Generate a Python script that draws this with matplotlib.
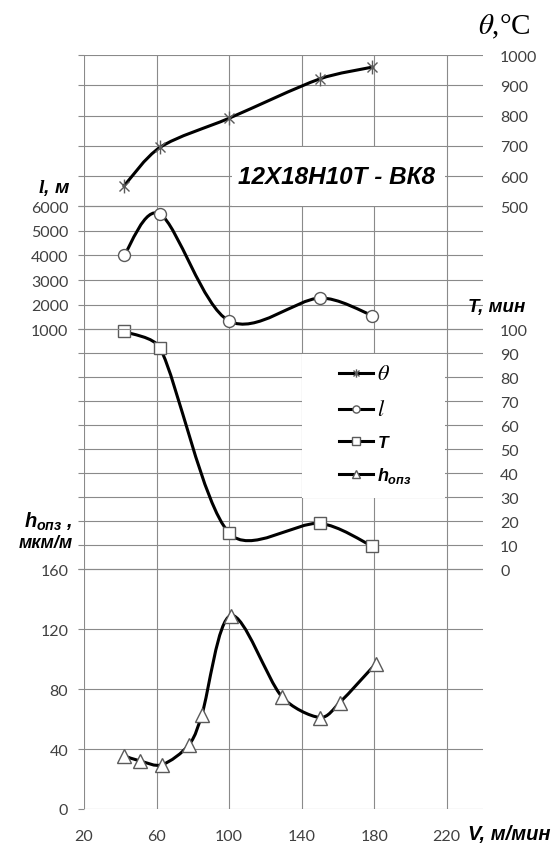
import matplotlib
matplotlib.use("Agg")
import matplotlib.pyplot as plt
import numpy as np
from matplotlib.path import Path
from matplotlib.patches import PathPatch, Rectangle
from matplotlib.lines import Line2D

plt.rcParams['font.family'] = ['Liberation Sans', 'DejaVu Sans']
plt.rcParams['mathtext.fontset'] = 'custom'
plt.rcParams['mathtext.it'] = 'Liberation Sans:italic:bold'
plt.rcParams['mathtext.bf'] = 'Liberation Serif:italic:bold'
plt.rcParams['mathtext.rm'] = 'Liberation Sans:italic:bold'

# cutting speed, m/min
speed = [42, 62, 100, 150, 179]
temp = [567, 695, 791, 921, 960]          # theta, deg C
path_len = [4000, 5680, 1340, 2270, 1560]  # l, m
tool_life = [99, 92, 15, 19, 9.5]          # T, min
speed_h = [42, 51, 63, 78, 85, 101, 129, 150, 161, 181]
wear = [35.5, 32, 29.5, 43, 63, 129, 75, 61, 71, 97]  # h_ops, um/m

x_ticks = [20, 60, 100, 140, 180, 220]
h_ticks = [0, 40, 80, 120, 160]
T_ticks = list(range(0, 101, 10))
l_ticks = [1000, 2000, 3000, 4000, 5000, 6000]
th_ticks = [500, 600, 700, 800, 900, 1000]

GRID = '#8a8a8a'
LABEL = '#404040'
MEC = '#5a5a5a'


def smooth_path(a, xs, ys):
    # cubic Bezier through the points, tangents built in screen space
    # and capped to a third of the neighbouring segment
    pts = a.transData.transform(np.column_stack([xs, ys]).astype(float))
    n = len(pts)
    tang = []
    for i in range(n):
        tang.append((pts[min(i + 1, n - 1)] - pts[max(i - 1, 0)]) / 6)
    verts = [pts[0]]
    codes = [Path.MOVETO]
    for i in range(n - 1):
        p1, p2 = pts[i], pts[i + 1]
        seg = np.hypot(*(p2 - p1)) / 3
        t1, t2 = tang[i], tang[i + 1]
        m1, m2 = np.hypot(*t1), np.hypot(*t2)
        if m1 > seg:
            t1 = t1 * seg / m1
        if m2 > seg:
            t2 = t2 * seg / m2
        verts += [p1 + t1, p2 - t2, p2]
        codes += [Path.CURVE4] * 3
    verts = a.transData.inverted().transform(np.array(verts))
    return Path(verts, codes)


star = Path([(0, -1), (0, 1), (-0.72, -0.72), (0.72, 0.72), (-0.72, 0.72), (0.72, -0.72)],
            [Path.MOVETO, Path.LINETO] * 3)

fig = plt.figure(figsize=(5.53, 8.45), dpi=100)
ax = fig.add_axes([84 / 553, 35 / 845, 399 / 553, 754 / 845])
ax_T = ax.twinx()
ax_l = ax.twinx()
ax_th = ax.twinx()

ax.set_xlim(20, 240)
ax.set_xticks(x_ticks)
ax.set_ylim(0, 502.67)
ax_T.set_ylim(-100, 214.2)
ax_l.set_ylim(-18500, 12150)
ax_th.set_ylim(-1492, 1000)

ax.set_yticks(h_ticks)
ax_T.set_yticks(T_ticks)
ax_l.set_yticks(l_ticks)
ax_th.set_yticks(th_ticks)

for a in (ax, ax_T, ax_l, ax_th):
    for s in a.spines.values():
        s.set_visible(False)
    a.yaxis.grid(True, color=GRID, lw=0.8)
    a.tick_params(axis='y', length=4.3, width=0.8, color=GRID, labelcolor=LABEL,
                  labelsize=11.5, labelfontfamily='Lato')

ax.xaxis.grid(True, color=GRID, lw=0.8)
ax.tick_params(axis='x', length=0, pad=14.5, labelcolor=LABEL, labelsize=11.5,
               labelfontfamily='Lato')
ax.tick_params(axis='y', left=True, right=False, labelleft=True, labelright=False, pad=7)
ax_l.tick_params(axis='y', left=True, right=False, labelleft=True, labelright=False, pad=7)
for a in (ax_T, ax_th):
    a.tick_params(axis='y', left=True, right=False, labelleft=False, labelright=True, pad=8)

# curves
line_kw = dict(fill=False, ec='black', lw=2.2, zorder=2.5, capstyle='round')
ax.add_patch(PathPatch(smooth_path(ax, speed_h, wear), **line_kw))
ax_T.add_patch(PathPatch(smooth_path(ax_T, speed, tool_life), **line_kw))
ax_l.add_patch(PathPatch(smooth_path(ax_l, speed, path_len), **line_kw))
ax_th.add_patch(PathPatch(smooth_path(ax_th, speed, temp), **line_kw))

mk = dict(linestyle='none', mfc='white', mec=MEC, mew=1.0, zorder=3)
ax.plot(speed_h, wear, marker='^', ms=9.5, **mk)
ax_T.plot(speed, tool_life, marker='s', ms=9, **mk)
ax_l.plot(speed, path_len, marker='o', ms=8.6, **mk)
ax_th.plot(speed, temp, marker=star, ms=10, **mk)

# white boxes for the caption and the legend
ax_th.add_patch(Rectangle((0.371, 0.800), 0.535, 0.078, transform=ax_th.transAxes,
                          fc='white', ec='none', zorder=1.8))
ax_th.add_patch(Rectangle((0.546, 0.4125), 0.359, 0.191, transform=ax_th.transAxes,
                          fc='white', ec='none', zorder=1.8))

handles = [
    Line2D([], [], color='black', lw=2.2, marker=star, ms=10, mec=MEC, mew=1.0),
    Line2D([], [], color='black', lw=2.2, marker='o', ms=8.6, mfc='white', mec=MEC, mew=1.0),
    Line2D([], [], color='black', lw=2.2, marker='s', ms=9, mfc='white', mec=MEC, mew=1.0),
    Line2D([], [], color='black', lw=2.2, marker='^', ms=9.5, mfc='white', mec=MEC, mew=1.0),
]
leg = ax_th.legend(handles, [r'$\theta$', r'$l$', 'T', r'$h_{опз}$'],
                   loc='upper left', bbox_to_anchor=(339 / 553, 1 - 364 / 845),
                   bbox_transform=fig.transFigure, frameon=False, borderpad=0,
                   borderaxespad=0, handlelength=2.05, handletextpad=0.25,
                   labelspacing=0.9, markerscale=0.6, prop={'size': 12})
texts = leg.get_texts()
for t in texts[:2]:
    t.set_math_fontfamily('stix')
    t.set_fontsize(16)
texts[2].set_fontstyle('italic')
texts[2].set_fontweight('bold')
texts[2].set_fontsize(12.5)
texts[3].set_fontsize(13)

# axis captions
fig.text(478 / 553, 1 - 27 / 845, r'$\theta$,°C', family='Liberation Serif', fontsize=21,
         math_fontfamily='stix', ha='left', va='center')
fig.text(70 / 553, 1 - 188 / 845, r'$\mathbf{l}$, м', fontsize=14, style='italic',
         weight='bold', ha='right', va='center')
fig.text(73 / 553, 1 - 522 / 845, r'$h_{опз}$ ,', fontsize=14.5, style='italic',
         weight='bold', ha='right', va='center')
fig.text(73 / 553, 1 - 544 / 845, 'мкм/м', fontsize=13, style='italic',
         weight='bold', ha='right', va='center')
fig.text(468 / 553, 1 - 308 / 845, 'T, мин', fontsize=13.5, style='italic',
         weight='bold', ha='left', va='center')
fig.text(468 / 553, 1 - 835 / 845, 'V, м/мин', fontsize=14.5, style='italic',
         weight='bold', ha='left', va='center')
fig.text(336 / 553, 1 - 177 / 845, '12Х18Н10Т - ВК8', fontsize=17.5, style='italic',
         weight='bold', ha='center', va='center')

fig.savefig('out.png', dpi=100)
